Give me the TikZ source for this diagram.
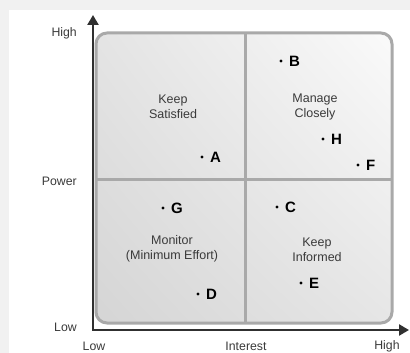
\documentclass[tikz,border=0pt]{standalone}
\usepackage{fontspec}
\setmainfont{Liberation Sans}
\usetikzlibrary{arrows.meta,positioning,shadings}
\definecolor{pagegray}{HTML}{F1F1F1}
\definecolor{axisgray}{HTML}{303030}
\definecolor{rimgray}{HTML}{A9A9A9}
\definecolor{quadUL}{HTML}{E4E4E4}
\definecolor{quadLL}{HTML}{D5D5D5}
\definecolor{quadUR}{HTML}{FAFAFA}
\definecolor{quadLR}{HTML}{E6E6E6}
\definecolor{inkgray}{HTML}{3A3A3A}
\tikzset{
	axis/.style={line width=2.6pt, draw=axisgray, line join=miter,
		{Triangle[width=11pt,length=10pt]}-{Triangle[width=11pt,length=10pt]}},
	rim/.style={line width=3pt, draw=rimgray},
	quadtext/.style={align=center, text=inkgray, inner sep=0pt,
		font=\fontsize{12.5}{15}\selectfont},
	axtext/.style={text=inkgray, inner sep=0pt, font=\fontsize{12.3}{14}\selectfont},
	stake/.style={circle, fill=black, inner sep=0pt, minimum size=3.4pt},
	tag/.style={font=\bfseries\fontsize{15}{17}\selectfont, inner sep=0pt}
}

\begin{document}
\begin{tikzpicture}[x=1pt, y=-1pt]
			%%%%% START %%%%%
			\useasboundingbox (0, 0) rectangle (410, 353);
			
			\fill[pagegray] (0, 0) rectangle (410, 353);
			\fill[white] (9, 10) rectangle (410, 353);
			
			% quadrant box
			\shade[rounded corners=11pt, upper left=quadUL, lower left=quadLL,
				upper right=quadUR, lower right=quadLR] (96, 33) rectangle (392, 323);
			\draw[rim] (245, 33) -- (245, 323);
			\draw[rim] (96, 179) -- (392, 179);
			\draw[rim, rounded corners=11pt] (96, 33) rectangle (392, 323);
			
			% axes
			\coordinate (origin) at (93, 330);
			\coordinate (ytip) at (93, 15);
			\coordinate (xtip) at (409, 330);
			\draw[axis] (ytip) -- (origin) -- (xtip);
			
			\node[axtext, anchor=east] (yhigh) at (77, 33) {High};
			\node[axtext, anchor=east] (ypower) at (77, 181) {Power};
			\node[axtext, anchor=east] (ylow) at (77, 327) {Low};
			\node[axtext] (xlow) at (94, 346) {Low};
			\node[axtext] (xinterest) at (246, 346) {Interest};
			\node[axtext] (xhigh) at (387, 346) {High};
			
			% quadrant labels
			\node[quadtext] (satisfied) at (173, 107) {Keep\\Satisfied};
			\node[quadtext] (closely) at (315, 107) {Manage\\Closely};
			\node[quadtext] (monitor) at (172, 249) {Monitor\\(Minimum Effort)};
			\node[quadtext] (informed) at (317, 250) {Keep\\Informed};
			
			% stakeholders
			\node[stake] (A) at (202, 157) {};
			\node[tag, right=6pt of A] (A-tag) {A};
			
			\node[stake] (B) at (281, 61) {};
			\node[tag, right=6pt of B] (B-tag) {B};
			
			\node[stake] (C) at (277, 207) {};
			\node[tag, right=6pt of C] (C-tag) {C};
			
			\node[stake] (D) at (198, 294) {};
			\node[tag, right=6pt of D] (D-tag) {D};
			
			\node[stake] (E) at (301, 283) {};
			\node[tag, right=6pt of E] (E-tag) {E};
			
			\node[stake] (F) at (358, 165) {};
			\node[tag, right=6pt of F] (F-tag) {F};
			
			\node[stake] (G) at (163, 208) {};
			\node[tag, right=6pt of G] (G-tag) {G};
			
			\node[stake] (H) at (323, 139) {};
			\node[tag, right=6pt of H] (H-tag) {H};
			
			%%%%% END %%%%%
		\end{tikzpicture}
\end{document}
